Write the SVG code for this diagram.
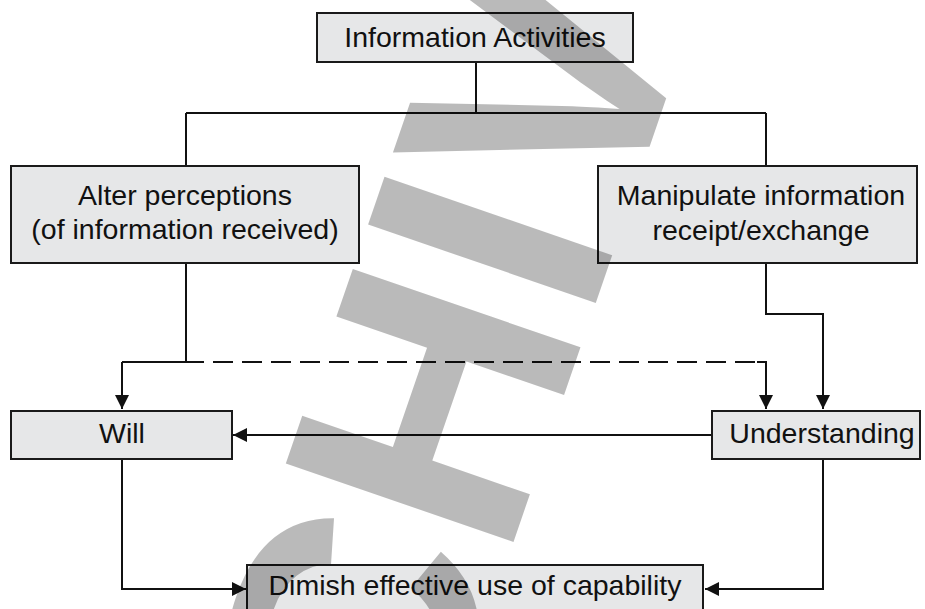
<svg xmlns="http://www.w3.org/2000/svg" width="925" height="609" viewBox="0 0 925 609">
<style>
.box{fill:#e6e7e8;stroke:#1a1a1a;stroke-width:2}
.t{font-family:"Liberation Sans",Arial,sans-serif;font-size:28.5px;fill:#111;text-anchor:middle}
.c{fill:none;stroke:#111;stroke-width:2}
.d{stroke-dasharray:20 9}
.wm{font-family:"Liberation Sans",Arial,sans-serif;font-weight:bold;font-size:350px;fill:#000;fill-opacity:0.27}
</style>
<defs>
<marker id="ah" markerUnits="userSpaceOnUse" markerWidth="15" markerHeight="15" refX="14" refY="7" orient="auto">
<path d="M0,0 L14,7 L0,14 Z" fill="#111"/>
</marker>
</defs>
<rect width="925" height="609" fill="#fff"/>
<g id="connectors">
<path class="c" d="M476,62 V113 M186,113 H766 M186,113 V166 M766,113 V166"/>
<path class="c" d="M186,263 V362 M204,362 H122"/>
<path class="c" d="M122,362 V409" marker-end="url(#ah)"/>
<path class="c d" d="M213,362 H757"/>
<path class="c" d="M757,362 H766 V409" marker-end="url(#ah)"/>
<path class="c" d="M766,263 V314 H823 V409" marker-end="url(#ah)"/>
<path class="c" d="M712,435 H233" marker-end="url(#ah)"/>
<path class="c" d="M122,459 V589 H246" marker-end="url(#ah)"/>
<path class="c" d="M823,459 V589 H705" marker-end="url(#ah)"/>
</g>
<g id="node-info">
<rect class="box" x="317" y="13" width="316" height="49"/>
<text class="t" x="475" y="47">Information Activities</text>
</g>
<g id="node-alter">
<rect class="box" x="11" y="166" width="348" height="97"/>
<text class="t" x="185" y="205">Alter perceptions</text>
<text class="t" x="185" y="239">(of information received)</text>
</g>
<g id="node-manipulate">
<rect class="box" x="598" y="166" width="319" height="97"/>
<text class="t" x="761" y="205">Manipulate information</text>
<text class="t" x="761" y="240">receipt/exchange</text>
</g>
<g id="node-will">
<rect class="box" x="11" y="411" width="221" height="48"/>
<text class="t" x="122" y="443">Will</text>
</g>
<g id="node-understanding">
<rect class="box" x="712" y="411" width="208" height="48"/>
<text class="t" x="822" y="443">Understanding</text>
</g>
<g id="node-dimish">
<rect class="box" x="247" y="565" width="456" height="60"/>
<text class="t" x="475" y="595">Dimish effective use of capability</text>
</g>
<g id="watermark">
<text class="wm" transform="translate(259,1281) rotate(-71)">ARCHIVED</text>
</g>
</svg>
